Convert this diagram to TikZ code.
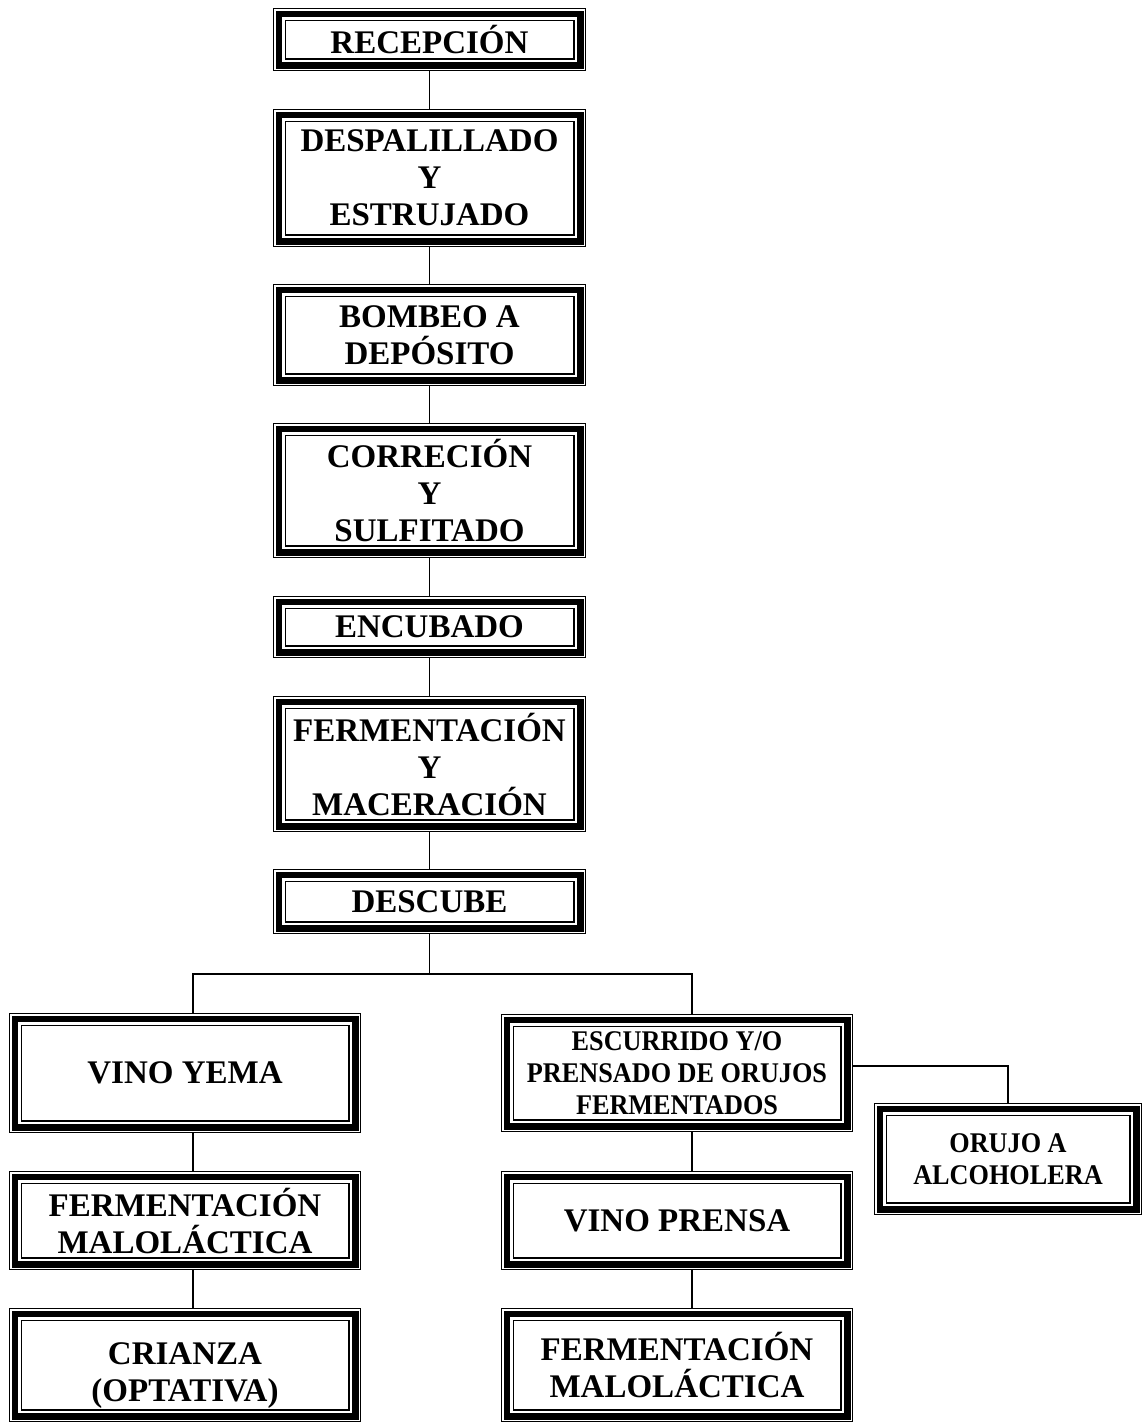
\documentclass[tikz,border=0pt]{standalone}
\usepackage{fontspec}
\setmainfont{Liberation Serif}
\newfontfamily\narrowserif[FakeStretch=0.92]{Liberation Serif}
\usetikzlibrary{calc}
\newcommand{\bigtext}{\bfseries\fontsize{33}{37}\selectfont}
\newcommand{\smalltext}{\narrowserif\bfseries\fontsize{28.5}{32}\selectfont}
\newcommand{\rimrect}[2]{\draw[line width=#1]
  ([shift={(#2,#2)}]path picture bounding box.south west) rectangle
  ([shift={(-#2,-#2)}]path picture bounding box.north east);}

\begin{document}
\begin{tikzpicture}[x=1pt,y=1pt,
    stage/.style={rectangle,inner sep=0pt,outer sep=0pt,fill=white,
                  align=center,font=\bigtext,
                  path picture={\rimrect{1.2pt}{.6pt}\rimrect{6.5pt}{5.75pt}\rimrect{1.5pt}{12.25pt}}},
    main/.style={stage,minimum width=313pt},
    side/.style={stage,minimum width=352pt},
    link/.style={line width=1.5pt}]
    \useasboundingbox (0,0) rectangle (1146,-1424);
    \node[main,minimum height=63pt] (recepcion) at (429.5,-39.5) {RECEPCIÓN};
    \node[main,minimum height=138pt] (despalillado) at (429.5,-178) {DESPALILLADO\\Y\\ESTRUJADO};
    \node[main,minimum height=102pt] (bombeo) at (429.5,-335) {BOMBEO A\\DEPÓSITO};
    \node[main,minimum height=135pt] (correcion) at (429.5,-490.5) {CORRECIÓN\\Y\\SULFITADO};
    \node[main,minimum height=62pt] (encubado) at (429.5,-627) {ENCUBADO};
    \node[main,minimum height=136pt] (fermentacion) at (429.5,-764) {FERMENTACIÓN\\Y\\MACERACIÓN};
    \node[main,minimum height=65pt] (descube) at (429.5,-901.5) {DESCUBE};
    \node[side,minimum height=120pt] (yema) at (185,-1073) {VINO YEMA};
    \node[side,minimum height=99pt] (maloyema) at (185,-1220.5) {FERMENTACIÓN\\MALOLÁCTICA};
    \node[side,minimum height=114pt] (crianza) at (185,-1365) {\rule{0pt}{42pt}CRIANZA\\(OPTATIVA)};
    \node[side,minimum height=118pt,font=\smalltext] (escurrido) at (677,-1073) {ESCURRIDO Y/O\\PRENSADO DE ORUJOS\\FERMENTADOS};
    \node[stage,minimum width=268pt,minimum height=112pt,font=\smalltext] (orujo) at (1008,-1159) {ORUJO A\\ALCOHOLERA};
    \node[side,minimum height=99pt] (prensa) at (677,-1220.5) {VINO PRENSA};
    \node[side,minimum height=114pt] (maloprensa) at (677,-1365) {FERMENTACIÓN\\MALOLÁCTICA};
    \coordinate (split) at ($(descube.south)+(0,-40)$);
    \draw[link] (recepcion.south) -- (despalillado.north);
    \draw[link] (despalillado.south) -- (bombeo.north);
    \draw[link] (bombeo.south) -- (correcion.north);
    \draw[link] (correcion.south) -- (encubado.north);
    \draw[link] (encubado.south) -- (fermentacion.north);
    \draw[link] (fermentacion.south) -- (descube.north);
    \draw[link] (descube.south) -- (split);
    \draw[link] ([xshift=8pt]yema.north) |- (split) -| ([xshift=15pt]escurrido.north);
    \draw[link] ([xshift=8pt]yema.south) -- ([xshift=8pt]maloyema.north);
    \draw[link] ([xshift=8pt]maloyema.south) -- ([xshift=8pt]crianza.north);
    \draw[link] ([xshift=15pt]escurrido.south) -- ([xshift=15pt]prensa.north);
    \draw[link] ([xshift=15pt]prensa.south) -- ([xshift=15pt]maloprensa.north);
    \draw[link] ([yshift=7pt]escurrido.east) -| (orujo.north);
  \end{tikzpicture}
\end{document}
